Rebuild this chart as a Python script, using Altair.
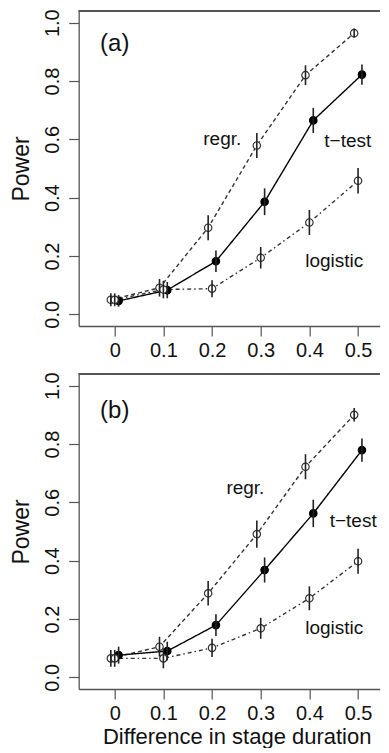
import altair as alt
import pandas as pd

# ---- data ----
x_levels = [0, 0.1, 0.2, 0.3, 0.4, 0.5]

a_regr = [0.050, 0.091, 0.297, 0.579, 0.820, 0.964]
a_ttest = [0.046, 0.083, 0.182, 0.386, 0.665, 0.822]
a_logit = [0.050, 0.085, 0.088, 0.194, 0.315, 0.458]
a_regr_err = [0.022, 0.030, 0.043, 0.043, 0.034, 0.016]
a_ttest_err = [0.020, 0.028, 0.037, 0.046, 0.043, 0.035]
a_logit_err = [0.022, 0.030, 0.029, 0.037, 0.043, 0.044]

b_regr = [0.065, 0.105, 0.288, 0.491, 0.722, 0.900]
b_ttest = [0.076, 0.090, 0.179, 0.368, 0.562, 0.779]
b_logit = [0.065, 0.065, 0.101, 0.168, 0.271, 0.398]
b_regr_err = [0.029, 0.034, 0.042, 0.047, 0.043, 0.023]
b_ttest_err = [0.029, 0.032, 0.037, 0.043, 0.047, 0.040]
b_logit_err = [0.029, 0.034, 0.031, 0.036, 0.041, 0.043]

series_names = ["regr", "ttest", "logistic"]

# annotation texts (label, x, y) per panel
a_labels = [("(a)", 0.0, 0.926), ("regr.", 0.221, 0.600), ("t\u2212test", 0.479, 0.593), ("logistic", 0.451, 0.182)]
b_labels = [("(b)", 0.0, 0.913), ("regr.", 0.2685, 0.648), ("t\u2212test", 0.490, 0.537), ("logistic", 0.451, 0.168)]

# ---- styling ----
FONT = "Liberation Sans"
W, H = 301, 315
X_DOM = [-0.074, -0.074 + 301 / 486.7]
Y_DOM = [-0.04, 1.04]
offsets = {"regr": -0.008, "ttest": 0.008, "logistic": 0.0}
LINE_COL = "#333333"


def build_df(regr, ttest, logit, regr_e, ttest_e, logit_e):
    rows = []
    for name, vals, errs in [("regr", regr, regr_e), ("ttest", ttest, ttest_e), ("logistic", logit, logit_e)]:
        for xv, v, e in zip(x_levels, vals, errs):
            rows.append({"series": name, "x": xv, "power": v, "lo": v - e, "hi": v + e})
    return pd.DataFrame(rows)


def panel(df, labels, show_xtitle):
    xs = alt.Scale(domain=X_DOM, nice=False, zero=False)
    ys = alt.Scale(domain=Y_DOM, nice=False, zero=False)
    if show_xtitle:
        xaxis = alt.Axis(values=x_levels, format=".1~f", title="Difference in stage duration",
                         tickSize=10, labelPadding=4.5, labelFontSize=20, titleFontSize=22, titlePadding=3,
                         titleX=158, titleAlign="center", labelFlush=False)
    else:
        xaxis = alt.Axis(values=x_levels, format=".1~f", title=None,
                         tickSize=10, labelPadding=4.5, labelFontSize=20, labelFlush=False)
    yaxis = alt.Axis(values=[0, 0.2, 0.4, 0.6, 0.8, 1.0], format=".1f", title="Power",
                     tickSize=10, labelPadding=6.5, labelFontSize=20, labelAngle=270,
                     labelAlign="center", labelBaseline="bottom", titleFontSize=23, titlePadding=9,
                     titleAngle=270, titleBaseline="bottom")

    base = alt.Chart(df).transform_calculate(
        xp="datum.x + (datum.series == 'regr' ? %f : (datum.series == 'ttest' ? %f : %f))"
           % (offsets["regr"], offsets["ttest"], offsets["logistic"])
    )
    X = alt.X("xp:Q", scale=xs, axis=xaxis)
    Y = alt.Y("power:Q", scale=ys, axis=yaxis)

    lines = base.mark_line(strokeWidth=1.4, clip=True).encode(
        x=X, y=Y,
        detail="series:N",
        color=alt.Color("series:N", scale=alt.Scale(domain=series_names, range=[LINE_COL, "#000000", LINE_COL]), legend=None),
        strokeDash=alt.StrokeDash("series:N", scale=alt.Scale(domain=series_names, range=[[4, 3], [1, 0], [1.5, 3, 4, 3]]), legend=None),
        order="x:Q",
    )
    pts = base.mark_point(shape="circle", size=55, strokeWidth=1.2, filled=False, opacity=1).encode(
        x=X, y=Y,
        stroke=alt.Stroke("series:N", scale=alt.Scale(domain=series_names, range=["#333333", "#000000", "#333333"]), legend=None),
        fill=alt.Fill("series:N", scale=alt.Scale(domain=series_names, range=["#ffffff", "#000000", "#ffffff"]), legend=None),
    )
    bars = base.mark_rule(strokeWidth=1.6, color="#222222").encode(
        x=X, y=alt.Y("lo:Q", scale=ys), y2="hi:Q"
    )
    lab_df = pd.DataFrame({"t": [l[0] for l in labels], "lx": [l[1] for l in labels], "ly": [l[2] for l in labels],
                           "fs": [24, 19, 19, 19]})
    texts = alt.Chart(lab_df).mark_text(font=FONT, baseline="middle", align="center", color="#111111").encode(
        x=alt.X("lx:Q", scale=xs), y=alt.Y("ly:Q", scale=ys), text="t:N",
        size=alt.Size("fs:Q", scale=None, legend=None),
    )
    top = alt.Chart(lab_df).mark_rule(color="#555555", strokeWidth=1.3).encode(
        x=alt.value(0), x2=alt.value(W), y=alt.value(0)
    )
    return alt.layer(lines, pts, bars, texts, top).properties(width=W, height=H)


dfa = build_df(a_regr, a_ttest, a_logit, a_regr_err, a_ttest_err, a_logit_err)
dfb = build_df(b_regr, b_ttest, b_logit, b_regr_err, b_ttest_err, b_logit_err)

chart = alt.vconcat(panel(dfa, a_labels, False), panel(dfb, b_labels, True), spacing=10).properties(
    padding={"left": 1.7, "top": 0, "right": 0, "bottom": 0}
).configure_view(stroke=None).configure_axis(
    grid=False, domainColor="#555555", domainWidth=1.3, tickColor="#555555", tickWidth=1.2,
    labelColor="#111111", titleColor="#111111", labelFont=FONT, titleFont=FONT, titleFontWeight="normal",
)

chart.save("out.html", embed_options={"renderer": "svg", "actions": False})
